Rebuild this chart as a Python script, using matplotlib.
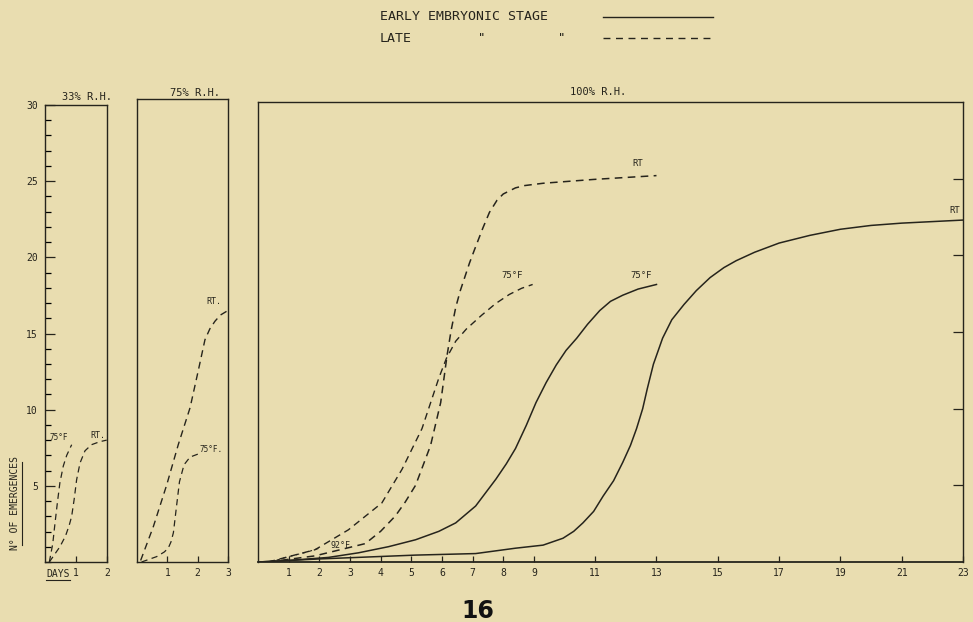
import matplotlib
matplotlib.use("Agg")
import matplotlib.pyplot as plt
from matplotlib.lines import Line2D
from matplotlib.ticker import MultipleLocator

# --- 33% R.H. (late embryonic stage only) ---
rh33_75f_x = [0.14, 0.25, 0.32, 0.40, 0.48, 0.59, 0.70, 0.86]
rh33_75f_y = [0.0, 1.2, 2.5, 3.9, 5.2, 6.3, 7.0, 7.7]
rh33_rt_x = [0.14, 0.48, 0.66, 0.78, 0.86, 0.94, 1.02, 1.13, 1.29, 1.5, 1.77, 1.99]
rh33_rt_y = [0.0, 1.0, 1.7, 2.4, 3.0, 4.1, 5.4, 6.5, 7.3, 7.7, 7.9, 8.0]

# --- 75% R.H. (late) ---
rh75_rt_x = [0.12, 0.54, 0.98, 1.36, 1.75, 2.02, 2.24, 2.4, 2.57, 2.75, 2.96]
rh75_rt_y = [0.1, 2.3, 5.0, 7.6, 10.0, 12.4, 14.4, 15.1, 15.6, 16.0, 16.25]
rh75_75f_x = [0.15, 0.65, 0.9, 1.03, 1.12, 1.2, 1.29, 1.40, 1.55, 1.75, 2.02]
rh75_75f_y = [0.0, 0.35, 0.65, 0.9, 1.3, 1.9, 3.4, 5.2, 6.3, 6.8, 7.0]

# --- 100% R.H. ---
early_75f_x = [0, 1, 2.3, 3.28, 4.26, 5.14, 5.9, 6.45, 7.1, 7.76, 8.1, 8.4, 8.75, 9.07, 9.4,
               9.73, 10.05, 10.4, 10.75, 11.15, 11.5, 11.9, 12.4, 13.0]
early_75f_y = [0, 0.1, 0.3, 0.6, 1.0, 1.45, 2.0, 2.55, 3.65, 5.4, 6.4, 7.4, 8.9, 10.4, 11.7,
               12.85, 13.8, 14.6, 15.5, 16.4, 17.0, 17.4, 17.8, 18.1]
early_rt_x = [0, 2, 5.14, 7.1, 8.4, 9.3, 9.95, 10.3, 10.6, 10.95, 11.26, 11.6, 11.9, 12.15, 12.35,
              12.55, 12.7, 12.9, 13.2, 13.5, 13.9, 14.3, 14.75, 15.2, 15.6, 16.2, 17.0, 18.0,
              19.0, 20.0, 21.0, 22.0, 23.0]
early_rt_y = [0, 0.2, 0.45, 0.55, 0.9, 1.1, 1.55, 2.0, 2.55, 3.3, 4.3, 5.3, 6.5, 7.6, 8.7,
              10.0, 11.3, 12.9, 14.6, 15.8, 16.8, 17.7, 18.55, 19.2, 19.65, 20.2, 20.8, 21.3,
              21.7, 21.95, 22.1, 22.2, 22.3]
late_75f_x = [0.33, 1.86, 2.95, 4.04, 4.7, 5.35, 5.6, 5.9, 6.15, 6.45, 6.8, 7.3, 7.75, 8.2, 8.6, 8.96]
late_75f_y = [0, 0.8, 2.1, 3.85, 6.05, 8.7, 10.2, 12.0, 13.3, 14.4, 15.2, 16.1, 16.85, 17.45, 17.85, 18.1]
late_rt_x = [0.33, 1.86, 3.5, 4.0, 4.48, 4.8, 5.14, 5.63, 5.96, 6.17, 6.3, 6.45, 6.6, 6.9, 7.05,
             7.34, 7.55, 7.8, 8.0, 8.4, 8.7, 9.3, 10.95, 13.0]
late_rt_y = [0, 0.4, 1.2, 2.0, 3.0, 3.9, 5.0, 7.6, 10.4, 13.5, 15.1, 16.6, 17.7, 19.5, 20.3,
             21.8, 22.8, 23.6, 24.0, 24.4, 24.55, 24.7, 24.95, 25.2]
late_92f_x = [0.4, 1.0, 1.6, 2.0]
late_92f_y = [0.0, 0.35, 0.65, 0.9]

days_100 = [1, 2, 3, 4, 5, 6, 7, 8, 9, 11, 13, 15, 17, 19, 21, 23]

paper = "#e9ddb0"
ink = "#26241c"
dash = (5, 3.5)

plt.rcParams["font.family"] = ["DejaVu Sans Mono", "DejaVu Sans"]
plt.rcParams["text.color"] = ink

W, H = 973, 622
fig = plt.figure(figsize=(W / 100, H / 100), dpi=100, facecolor=paper)


def box(l, t, r, b):
    return [l / W, 1 - b / H, (r - l) / W, (b - t) / H]


def ftext(x, y, s, **kw):
    kw.setdefault("ha", "center")
    kw.setdefault("va", "center")
    fig.text(x / W, 1 - y / H, s, **kw)


def fline(x0, y0, x1, y1, **kw):
    fig.add_artist(Line2D([x0 / W, x1 / W], [1 - y0 / H, 1 - y1 / H],
                          transform=fig.transFigure, color=ink, **kw))


ax1 = fig.add_axes(box(45, 105, 107, 562))
ax2 = fig.add_axes(box(137, 99, 228, 562))
ax3 = fig.add_axes(box(258, 102, 963, 562))

for ax in (ax1, ax2, ax3):
    ax.set_facecolor("none")
    ax.set_ylim(0, 30)
    for s in ax.spines.values():
        s.set_color(ink)
        s.set_linewidth(1.0)
    ax.tick_params(colors=ink, labelsize=7, direction="in", width=0.9)

# 33% panel
ax1.set_xlim(0, 2)
ax1.plot(rh33_75f_x, rh33_75f_y, color=ink, lw=0.9, dashes=dash)
ax1.plot(rh33_rt_x, rh33_rt_y, color=ink, lw=0.9, dashes=dash)
ax1.set_xticks([1, 2])
ax1.set_yticks([5, 10, 15, 20, 25, 30])
ax1.yaxis.set_minor_locator(MultipleLocator(1))
ax1.tick_params(axis="y", which="major", length=7, pad=5, right=False)
ax1.tick_params(axis="y", which="minor", length=4, width=0.9, direction="in")
ax1.tick_params(axis="x", length=4, pad=4)
ax1.text(0.45, 7.9, "75°F", fontsize=5.5, ha="center", va="bottom")
ax1.text(1.72, 8.0, "RT.", fontsize=6, ha="center", va="bottom")

# 75% panel
ax2.set_xlim(0, 3)
ax2.plot(rh75_rt_x, rh75_rt_y, color=ink, lw=1.0, dashes=dash)
ax2.plot(rh75_75f_x, rh75_75f_y, color=ink, lw=0.9, dashes=dash)
ax2.set_xticks([1, 2, 3])
ax2.set_yticks([])
ax2.tick_params(axis="x", length=4, pad=4)
ax2.text(2.55, 16.6, "RT.", fontsize=6, ha="center", va="bottom")
ax2.text(2.45, 7.0, "75°F.", fontsize=5.5, ha="center", va="bottom")

# 100% panel
ax3.set_xlim(0, 23)
ax3.plot(early_75f_x, early_75f_y, color=ink, lw=1.1)
ax3.plot(early_rt_x, early_rt_y, color=ink, lw=1.1)
ax3.plot(late_75f_x, late_75f_y, color=ink, lw=1.0, dashes=dash)
ax3.plot(late_rt_x, late_rt_y, color=ink, lw=1.1, dashes=dash)
ax3.plot(late_92f_x, late_92f_y, color=ink, lw=0.8, dashes=(3, 3))
ax3.set_xticks(days_100)
ax3.yaxis.tick_right()
ax3.set_yticks([5, 10, 15, 20, 25])
ax3.tick_params(axis="y", length=7, labelright=False)
ax3.tick_params(axis="x", length=4, pad=4)
ax3.spines["bottom"].set_linewidth(1.3)
ax3.text(12.4, 25.7, "RT", fontsize=6.5, ha="center", va="bottom")
ax3.text(22.9, 22.6, "RT", fontsize=6.5, ha="right", va="bottom")
ax3.text(8.3, 18.4, "75°F", fontsize=6.5, ha="center", va="bottom")
ax3.text(12.5, 18.4, "75°F", fontsize=6.5, ha="center", va="bottom")
ax3.text(2.7, 0.8, "92°F", fontsize=6, ha="center", va="bottom")

# panel titles
ftext(87, 97, "33% R.H.", fontsize=7.5)
ftext(195, 93, "75% R.H.", fontsize=7.5)
ftext(598, 92, "100% R.H.", fontsize=7.5)

# key at top
ftext(380, 17, "EARLY EMBRYONIC STAGE", fontsize=9.5, ha="left")
fline(603, 17, 713, 17, lw=1.0)
ftext(380, 38, "LATE", fontsize=9.5, ha="left")
ftext(482, 38, '"', fontsize=9)
ftext(562, 38, '"', fontsize=9)
fline(603, 38, 713, 38, lw=1.0, dashes=(5, 4))

# axis captions
ftext(15, 503, "N° OF EMERGENCES", fontsize=7, rotation=90)
fline(22, 462, 22, 545, lw=0.8)
ftext(46, 574, "DAYS", fontsize=7, ha="left")
fline(46, 580, 70, 580, lw=0.8)

# page number
ftext(478, 611, "16", fontsize=17, fontweight="bold", family="DejaVu Sans", color="#111111")

fig.savefig("out.png", dpi=100, facecolor=paper)
